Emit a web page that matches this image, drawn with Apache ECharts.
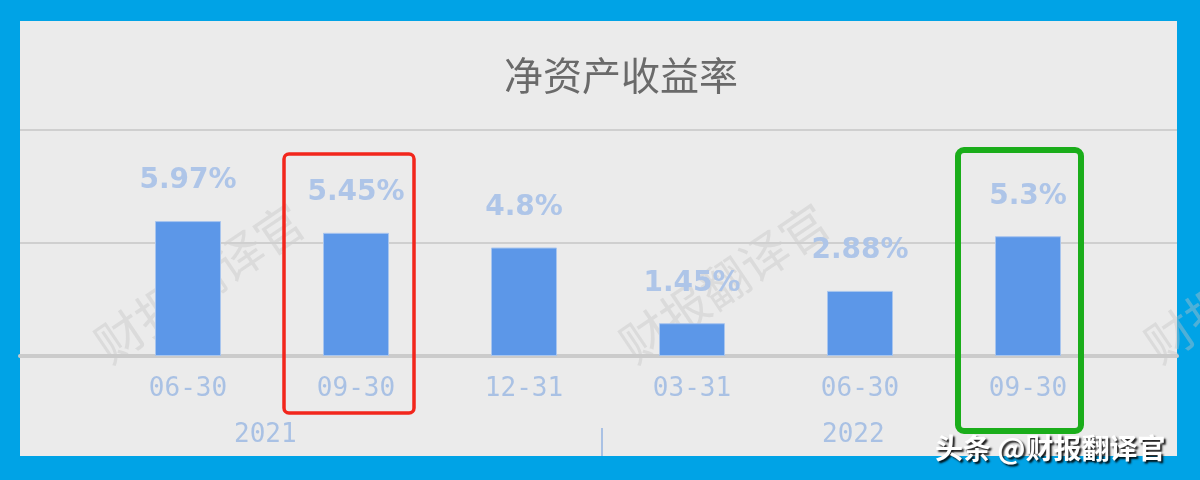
<!DOCTYPE html>
<html>
<head>
<meta charset="utf-8">
<script src="https://cdn.jsdelivr.net/npm/echarts@6/dist/echarts.min.js"></script>
<style>
html,body{margin:0;padding:0;background:#00a3e6;}
#c{width:1200px;height:480px;}
</style>
</head>
<body>
<div id="c"></div>
<script>
// ---- data ----
var periods = ['06-30', '09-30', '12-31', '03-31', '06-30', '09-30'];
var roeValues = [5.97, 5.45, 4.8, 1.45, 2.88, 5.3];
var yearLabels = ['2021', '2022'];
// index span of each year on the period axis (2021 starts with a cropped 03-31 at -1)
var yearStart = [-1, 3];
var yearEnd = [2, 5];
var yTicks = [0, 5, 10];
var redIdx = 1;
var greenIdx = 5;

var yearCenters = yearLabels.map(function (y, i) { return (yearStart[i] + yearEnd[i]) / 2; });
var yearBoundaries = [yearEnd[0] + 0.5];

var chart = echarts.init(document.getElementById('c'));
var labelColor = '#a9c1e4';
var mono = '"DejaVu Sans Mono", monospace';

function watermark(x, y) {
  return {
    type: 'text', x: x, y: y, rotation: Math.PI * 34 / 180, z: -50,
    style: {
      text: '财报翻译官', fill: 'rgba(195,195,195,0.4)',
      font: '48px "Noto Sans CJK SC"', textAlign: 'left', textVerticalAlign: 'middle'
    }
  };
}

var baseGraphic = [
  { type: 'rect', id: 'panel', z: -100, shape: { x: 20, y: 21, width: 1157, height: 435 }, style: { fill: '#ebebeb' } },
  watermark(100, 350),
  watermark(625, 350),
  watermark(1150, 350),
  {
    type: 'text', id: 'brand', z: 100, x: 935, y: 448,
    style: {
      text: '头条 @财报翻译官', fill: '#ffffff', font: 'bold 28px "Noto Sans CJK SC"',
      textVerticalAlign: 'middle', textShadowColor: 'rgba(0,0,0,0.9)', textShadowOffsetX: 2, textShadowOffsetY: 2, textShadowBlur: 2
    }
  }
];

var option = {
  backgroundColor: '#00a3e6',
  animation: false,
  title: {
    text: '净资产收益率', left: 616, top: 51, textAlign: 'center',
    textStyle: { color: '#6a6a6a', fontSize: 39, fontWeight: 'normal', fontFamily: '"Noto Sans CJK SC"' }
  },
  grid: [
    { left: 104, width: 1008, top: 130, bottom: 124 },
    { left: 20, right: 23, top: 130, bottom: 124 }
  ],
  xAxis: [
    {
      type: 'category', gridIndex: 0, data: periods,
      axisLine: { show: false }, axisTick: { show: false },
      axisLabel: { color: labelColor, fontSize: 26, fontFamily: mono, margin: 20 }
    },
    {
      type: 'value', gridIndex: 0, min: -0.46, max: 5.54, position: 'bottom',
      axisLine: { show: false }, axisTick: { show: false }, splitLine: { show: false },
      axisLabel: {
        show: true, customValues: yearCenters, margin: 66, color: labelColor, fontSize: 26, fontFamily: mono,
        formatter: function (v) { var i = yearCenters.indexOf(v); return i >= 0 ? yearLabels[i] : ''; }
      }
    },
    {
      type: 'value', gridIndex: 0, min: -0.46, max: 5.54, position: 'bottom', offset: 72,
      axisLine: { show: false }, splitLine: { show: false }, axisLabel: { show: false },
      axisTick: { show: true, customValues: yearBoundaries, length: 28, lineStyle: { color: '#a9c1e4', width: 2 } }
    },
    {
      type: 'category', gridIndex: 1, data: periods, show: true,
      axisLine: { show: true, lineStyle: { color: '#cbcbcb', width: 4 } },
      axisTick: { show: false }, axisLabel: { show: false }
    }
  ],
  yAxis: [
    { type: 'value', gridIndex: 0, min: 0, max: yTicks[yTicks.length - 1], interval: yTicks[1] - yTicks[0], show: false },
    {
      type: 'value', gridIndex: 1, min: 0, max: yTicks[yTicks.length - 1], interval: yTicks[1] - yTicks[0],
      axisLine: { show: false }, axisTick: { show: false }, axisLabel: { show: false },
      splitLine: { show: true, lineStyle: { color: '#cfcfcf', width: 2 } }
    }
  ],
  series: [{
    type: 'bar', xAxisIndex: 0, yAxisIndex: 0, data: roeValues, barWidth: 66, z: 5,
    itemStyle: { color: '#5c97e8', borderColor: '#a8c5ee', borderWidth: 1 },
    label: {
      show: true, position: 'top', distance: 26, color: '#aec5e8', fontSize: 28,
      fontFamily: '"DejaVu Sans"', fontWeight: 'bold',
      formatter: function (p) { return p.value + '%'; }
    }
  }],
  graphic: baseGraphic
};
chart.setOption(option);

// annotation boxes positioned from the library's scales
var pr = chart.convertToPixel({ gridIndex: 0 }, [redIdx, 0]);
var pg = chart.convertToPixel({ gridIndex: 0 }, [greenIdx, 0]);
chart.setOption({
  graphic: baseGraphic.concat([
    {
      type: 'rect', id: 'redBox', z: 60,
      shape: { x: pr[0] - 72, y: 154, width: 130, height: 259, r: 5 },
      style: { fill: 'none', stroke: '#f2261c', lineWidth: 3.5 }
    },
    {
      type: 'rect', id: 'greenBox', z: 60,
      shape: { x: pg[0] - 70, y: 150, width: 123, height: 281, r: 6 },
      style: { fill: 'none', stroke: '#1aad1a', lineWidth: 6 }
    }
  ])
});
</script>
</body>
</html>
